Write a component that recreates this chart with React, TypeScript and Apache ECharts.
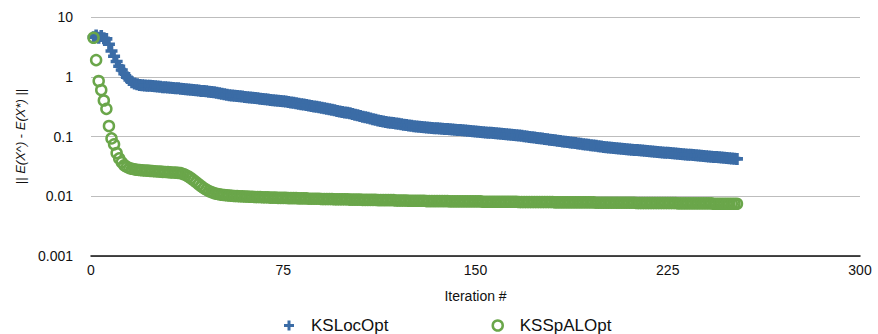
import React, { useEffect, useRef } from 'react';
import * as echarts from 'echarts';

// Iteration axis ticks and error (log) axis tick labels
const ITERATION_TICKS = [0, 75, 150, 225, 300];
const ERROR_TICKS = ['0.001', '0.01', '0.1', '1', '10'];
const SERIES_NAMES = ['KSLocOpt', 'KSSpALOpt'];

// ||E(X^) - E(X*)|| per iteration (iterations start at 1)
const ksLocOpt = [
  4.6, 4.9, 4.5, 4.8, 4.4, 4.3, 3.5, 2.7, 2.2, 1.8,
  1.5, 1.3, 1.12, 0.98, 0.88, 0.81, 0.77, 0.75, 0.73, 0.72,
  0.715, 0.71, 0.705, 0.7, 0.695, 0.69, 0.68, 0.67, 0.665, 0.66,
  0.655, 0.65, 0.645, 0.64, 0.63, 0.625, 0.62, 0.61, 0.605, 0.6,
  0.595, 0.59, 0.58, 0.575, 0.57, 0.56, 0.555, 0.55, 0.54, 0.53,
  0.52, 0.51, 0.5, 0.49, 0.485, 0.48, 0.475, 0.47, 0.465, 0.46,
  0.455, 0.45, 0.445, 0.44, 0.435, 0.43, 0.425, 0.42, 0.415, 0.41,
  0.405, 0.4, 0.397, 0.393, 0.39, 0.384, 0.378, 0.372, 0.366, 0.36,
  0.354, 0.348, 0.342, 0.336, 0.33, 0.324, 0.318, 0.314, 0.31, 0.304,
  0.298, 0.292, 0.286, 0.28, 0.274, 0.268, 0.262, 0.257, 0.253, 0.249,
  0.244, 0.238, 0.232, 0.226, 0.22, 0.215, 0.21, 0.205, 0.2, 0.195,
  0.19, 0.186, 0.182, 0.178, 0.175, 0.172, 0.17, 0.168, 0.165, 0.163,
  0.16, 0.158, 0.156, 0.153, 0.151, 0.149, 0.147, 0.145, 0.144, 0.143,
  0.142, 0.14, 0.139, 0.138, 0.137, 0.136, 0.135, 0.134, 0.133, 0.132,
  0.131, 0.13, 0.129, 0.128, 0.127, 0.126, 0.125, 0.124, 0.122, 0.121,
  0.12, 0.119, 0.118, 0.117, 0.116, 0.115, 0.114, 0.113, 0.112, 0.111,
  0.11, 0.109, 0.108, 0.107, 0.106, 0.105, 0.104, 0.1026, 0.1012, 0.0999,
  0.0985, 0.0972, 0.0959, 0.0947, 0.0934, 0.0922, 0.0909, 0.0897, 0.0885, 0.0874,
  0.0862, 0.0851, 0.0839, 0.0828, 0.0817, 0.0807, 0.0796, 0.0785, 0.0775, 0.0765,
  0.0755, 0.0745, 0.0735, 0.0725, 0.0716, 0.0706, 0.0697, 0.0688, 0.0678, 0.067,
  0.0661, 0.0652, 0.0646, 0.064, 0.0635, 0.0629, 0.0624, 0.0618, 0.0613, 0.0607,
  0.0602, 0.0597, 0.0592, 0.0586, 0.0581, 0.0576, 0.0571, 0.0566, 0.0561, 0.0556,
  0.0552, 0.0547, 0.0542, 0.0537, 0.0533, 0.0528, 0.0524, 0.0519, 0.0515, 0.051,
  0.0506, 0.0501, 0.0497, 0.0493, 0.0488, 0.0484, 0.048, 0.0476, 0.0472, 0.0468,
  0.0464, 0.046, 0.0456, 0.0452, 0.0448, 0.0444, 0.044, 0.0437, 0.0433, 0.0429,
  0.0426, 0.0422,
];

const ksSpALOpt = [
  4.5, 1.9, 0.85, 0.6, 0.4, 0.29, 0.15, 0.093, 0.074, 0.053,
  0.043, 0.037, 0.033, 0.031, 0.0295, 0.0288, 0.0282, 0.0278, 0.0275, 0.0272,
  0.027, 0.0268, 0.0266, 0.0264, 0.0262, 0.026, 0.0258, 0.0256, 0.0255, 0.0253,
  0.0251, 0.025, 0.0248, 0.0246, 0.0244, 0.0236, 0.0226, 0.0214, 0.02, 0.0186,
  0.0172, 0.0159, 0.0147, 0.0137, 0.0129, 0.0122, 0.0117, 0.0113, 0.011, 0.0108,
  0.0106, 0.0105, 0.0104, 0.0103, 0.0102, 0.0101, 0.0101, 0.01, 0.01, 0.0099,
  0.0099, 0.0098, 0.0098, 0.0097, 0.0097, 0.0097, 0.0096, 0.0096, 0.0096, 0.0095,
  0.0095, 0.0095, 0.0094, 0.0094, 0.0094, 0.0094, 0.0093, 0.0093, 0.0093, 0.0093,
  0.0092, 0.0092, 0.0092, 0.0092, 0.0091, 0.0091, 0.0091, 0.0091, 0.0091, 0.009,
  0.009, 0.009, 0.009, 0.009, 0.0089, 0.0089, 0.0089, 0.0089, 0.0089, 0.0089,
  0.0088, 0.0088, 0.0088, 0.0088, 0.0088, 0.0087, 0.0087, 0.0087, 0.0087, 0.0087,
  0.0087, 0.0086, 0.0086, 0.0086, 0.0086, 0.0086, 0.0086, 0.0086, 0.0085, 0.0085,
  0.0085, 0.0085, 0.0085, 0.0084, 0.0084, 0.0084, 0.0084, 0.0084, 0.0084, 0.0084,
  0.0083, 0.0083, 0.0083, 0.0083, 0.0083, 0.0083, 0.0083, 0.0083, 0.0083, 0.0082,
  0.0082, 0.0082, 0.0082, 0.0082, 0.0082, 0.0082, 0.0082, 0.0082, 0.0082, 0.0082,
  0.0082, 0.0082, 0.0081, 0.0081, 0.0081, 0.0081, 0.0081, 0.0081, 0.0081, 0.0081,
  0.0081, 0.0081, 0.0081, 0.0081, 0.0081, 0.0081, 0.008, 0.008, 0.008, 0.008,
  0.008, 0.008, 0.008, 0.008, 0.008, 0.008, 0.008, 0.008, 0.008, 0.008,
  0.0079, 0.0079, 0.0079, 0.0079, 0.0079, 0.0079, 0.0079, 0.0079, 0.0079, 0.0079,
  0.0079, 0.0079, 0.0079, 0.0079, 0.0079, 0.0079, 0.0078, 0.0078, 0.0078, 0.0078,
  0.0078, 0.0078, 0.0078, 0.0078, 0.0078, 0.0078, 0.0078, 0.0078, 0.0078, 0.0078,
  0.0078, 0.0078, 0.0077, 0.0077, 0.0077, 0.0077, 0.0077, 0.0077, 0.0077, 0.0077,
  0.0077, 0.0077, 0.0077, 0.0077, 0.0077, 0.0077, 0.0077, 0.0077, 0.0076, 0.0076,
  0.0076, 0.0076, 0.0076, 0.0076, 0.0076, 0.0076, 0.0076, 0.0076, 0.0076, 0.0076,
  0.0076, 0.0076, 0.0075, 0.0075, 0.0075, 0.0075, 0.0075, 0.0075, 0.0075, 0.0075,
  0.0075, 0.0075,
];

const BLUE = '#3b6ca6';
const GREEN = '#6aa64a';
const FONT = '"Liberation Sans", Arial, Helvetica, sans-serif';
const PLUS = 'path://M3.5,0h3v3.5h3.5v3h-3.5v3.5h-3v-3.5h-3.5v-3h3.5z';

const toPairs = (values: number[]) => values.map((v, i) => [i + 1, v]);

export default function App() {
  const ref = useRef<HTMLDivElement>(null);

  useEffect(() => {
    if (!ref.current) return;
    const chart = echarts.init(ref.current, null, { renderer: 'svg' });

    chart.setOption({
      animation: false,
      backgroundColor: '#ffffff',
      textStyle: { fontFamily: FONT },
      grid: { left: 91, right: 18, top: 17, bottom: 78 },
      legend: {
        top: 312,
        left: 279,
        itemWidth: 10,
        itemHeight: 10,
        itemGap: 103,
        textStyle: { fontSize: 17, color: '#111', fontFamily: FONT, padding: [0, 0, 0, 12] },
        data: [
          { name: SERIES_NAMES[0], icon: PLUS, itemStyle: { color: BLUE } },
          {
            name: SERIES_NAMES[1],
            icon: 'circle',
            itemStyle: { color: '#ffffff', borderColor: GREEN, borderWidth: 2.5 },
          },
        ],
      },
      xAxis: {
        type: 'value',
        min: ITERATION_TICKS[0],
        max: ITERATION_TICKS[ITERATION_TICKS.length - 1],
        interval: ITERATION_TICKS[1] - ITERATION_TICKS[0],
        name: 'Iteration #',
        nameLocation: 'middle',
        nameGap: 33,
        nameTextStyle: { fontSize: 14, color: '#111', fontFamily: FONT },
        axisLine: { show: true, lineStyle: { color: '#111', width: 1.5 } },
        axisTick: { show: false },
        splitLine: { show: false },
        axisLabel: { fontSize: 14, color: '#111', margin: 7, fontFamily: FONT },
      },
      yAxis: {
        type: 'log',
        logBase: 10,
        min: Number(ERROR_TICKS[0]),
        max: Number(ERROR_TICKS[ERROR_TICKS.length - 1]),
        name: '|| {i|E(X^)} - {i|E(X*)} ||',
        nameLocation: 'middle',
        nameGap: 60,
        nameTextStyle: {
          fontSize: 13,
          color: '#111',
          fontFamily: FONT,
          rich: { i: { fontStyle: 'italic', fontSize: 13, color: '#111', fontFamily: FONT } },
        },
        axisLine: { show: false },
        axisTick: { show: false },
        splitLine: { show: true, lineStyle: { color: '#bdbdbd', width: 1 } },
        axisLabel: {
          fontSize: 14,
          color: '#111',
          margin: 18,
          fontFamily: FONT,
          formatter: (v: number) => {
            let best = ERROR_TICKS[0];
            for (const t of ERROR_TICKS) {
              if (Math.abs(Math.log10(Number(t)) - Math.log10(v)) < Math.abs(Math.log10(Number(best)) - Math.log10(v))) best = t;
            }
            return best;
          },
        },
      },
      series: [
        {
          name: SERIES_NAMES[0],
          type: 'scatter',
          symbol: PLUS,
          symbolSize: 12,
          itemStyle: { color: BLUE, opacity: 1 },
          data: toPairs(ksLocOpt),
        },
        {
          name: SERIES_NAMES[1],
          type: 'scatter',
          symbol: 'circle',
          symbolSize: 10,
          itemStyle: { color: 'rgba(255,255,255,0)', borderColor: GREEN, borderWidth: 2.5, opacity: 1 },
          data: toPairs(ksSpALOpt),
        },
      ],
    });

    return () => chart.dispose();
  }, []);

  return (
    <div
      ref={ref}
      style={{ position: 'fixed', left: 0, top: 0, width: 878, height: 334, background: '#fff' }}
    />
  );
}
